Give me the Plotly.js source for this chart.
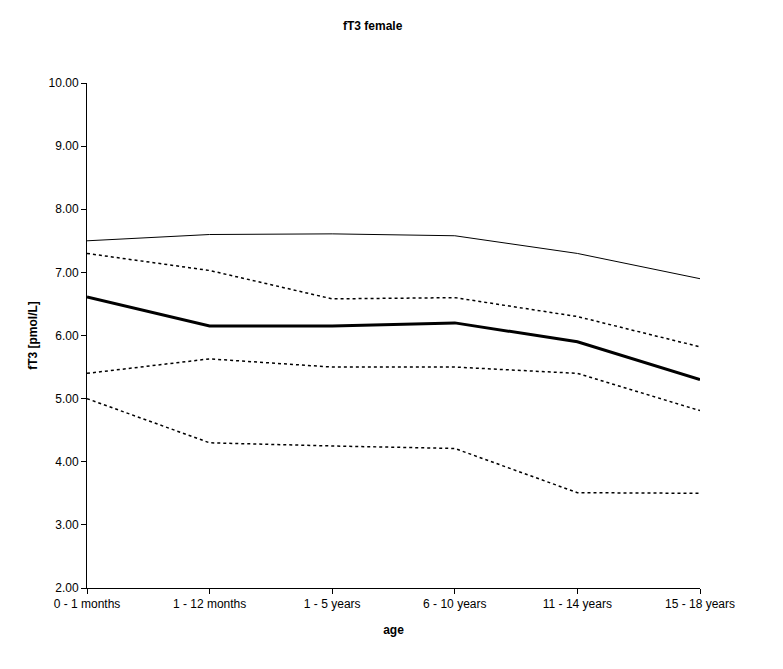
<!DOCTYPE html>
<html>
<head>
<meta charset="utf-8">
<script src="https://cdn.plot.ly/plotly-3.0.1.min.js"></script>
<style>html,body{margin:0;padding:0;background:#fff;}#chart{width:783px;height:669px;}</style>
</head>
<body>
<div id="chart"></div>
<script>
var categories = ["0 - 1 months", "1 - 12 months", "1 - 5 years", "6 - 10 years", "11 - 14 years", "15 - 18 years"];
var p97 = [7.50, 7.60, 7.61, 7.58, 7.30, 6.90];
var p90 = [7.30, 7.03, 6.58, 6.60, 6.30, 5.82];
var median = [6.61, 6.15, 6.15, 6.20, 5.90, 5.30];
var p10 = [5.40, 5.63, 5.50, 5.50, 5.40, 4.81];
var p3 = [5.00, 4.30, 4.25, 4.21, 3.51, 3.50];

function tr(y, width, dash) {
  return {x: categories, y: y, type: "scatter", mode: "lines",
    line: {color: "#000", width: width, dash: dash}, hoverinfo: "skip", showlegend: false};
}
var data = [
  tr(p97, 1, "solid"),
  tr(p90, 1.5, "3px,3px"),
  tr(median, 3, "solid"),
  tr(p10, 1.5, "3px,3px"),
  tr(p3, 1.5, "3px,3px")
];
var font = {family: "Liberation Sans, Arial, sans-serif", size: 12, color: "#000"};
var layout = {
  width: 783, height: 669,
  margin: {l: 87, r: 83, t: 83, b: 81},
  paper_bgcolor: "#fff", plot_bgcolor: "#fff",
  font: font,
  title: {text: "<b>fT3 female</b>", x: 0.476, xanchor: "center", y: 0.962, yanchor: "middle", font: {family: font.family, size: 12, color: "#000"}},
  xaxis: {type: "category", range: [0, 5], showgrid: false, zeroline: false, showline: true, linecolor: "#000", linewidth: 1,
    ticks: "outside", ticklen: 5, tickcolor: "#000", tickfont: font,
    title: {text: "<b>age</b>", font: font, standoff: 15}},
  yaxis: {range: [2, 10], dtick: 1, tick0: 2, tickformat: ".2f", showgrid: false, zeroline: false, showline: true, linecolor: "#000", linewidth: 1,
    ticks: "outside", ticklen: 5, tickcolor: "#000", tickfont: font,
    title: {text: "<b>fT3 [pmol/L]</b>", font: font, standoff: 8}}
};
Plotly.newPlot("chart", data, layout, {displayModeBar: false, staticPlot: true});
</script>
</body>
</html>
